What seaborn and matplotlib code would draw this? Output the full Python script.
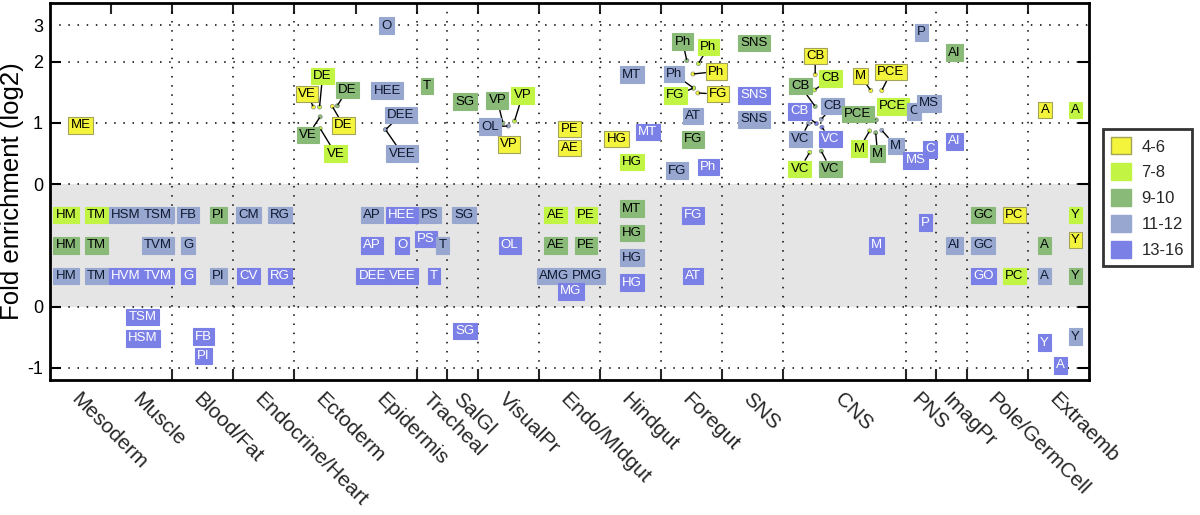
import numpy as np
import pandas as pd
import seaborn as sns
import matplotlib.pyplot as plt
from matplotlib.patches import Patch

# categories along x and their boundaries (in category-width units)
categories = ['Mesoderm', 'Muscle', 'Blood/Fat', 'Endocrine/Heart', 'Ectoderm', 'Epidermis',
              'Tracheal', 'SalGl', 'VisualPr', 'Endo/MIdgut', 'Hindgut', 'Foregut', 'SNS',
              'CNS', 'PNS', 'ImagPr', 'Pole/GermCell', 'Extraemb']
bounds = [0, 1, 2, 3, 4, 5, 6, 6.5, 7, 8, 9, 10, 11, 12, 14, 14.5, 15, 16, 17]

classes = ['4-6', '7-8', '9-10', '11-12', '13-16']
face = {'4-6': '#f4f43c', '7-8': '#c2f444', '9-10': '#89ba78', '11-12': '#97a7cf', '13-16': '#7b80e6'}
edge = {'4-6': '#a3a35a', '7-8': '#c2f444', '9-10': '#89ba78', '11-12': '#97a7cf', '13-16': '#7b80e6'}
txtc = {'4-6': 'black', '7-8': 'black', '9-10': 'black', '11-12': '#101830', '13-16': 'white'}

# ---- enriched terms (log2 fold > 0) ----
up_labels = ['ME', 'VE', 'DE', 'DE', 'DE', 'VE', 'VE', 'O', 'HEE', 'DEE', 'VEE', 'T', 'SG',
             'VP', 'VP', 'OL', 'VP', 'PE', 'AE', 'MT', 'HG', 'MT', 'HG',
             'Ph', 'Ph', 'Ph', 'Ph', 'FG', 'FG', 'AT', 'FG', 'FG', 'Ph', 'SNS', 'SNS', 'SNS',
             'CB', 'CB', 'CB', 'CB', 'CB', 'VC', 'VC', 'VC', 'VC',
             'M', 'PCE', 'PCE', 'PCE', 'M', 'M', 'M', 'P', 'C', 'MS', 'MS', 'C', 'AI', 'AI', 'A', 'A']
up_class = ['4-6', '4-6', '7-8', '9-10', '4-6', '9-10', '7-8', '11-12', '11-12', '11-12', '11-12', '9-10', '9-10',
            '9-10', '7-8', '11-12', '4-6', '4-6', '4-6', '11-12', '4-6', '13-16', '7-8',
            '9-10', '7-8', '11-12', '4-6', '7-8', '4-6', '11-12', '9-10', '11-12', '13-16', '9-10', '13-16', '11-12',
            '4-6', '7-8', '9-10', '13-16', '11-12', '11-12', '13-16', '7-8', '9-10',
            '4-6', '4-6', '9-10', '7-8', '7-8', '9-10', '11-12', '11-12', '11-12', '11-12', '13-16', '13-16',
            '9-10', '13-16', '4-6', '7-8']
up_val = [0.96, 1.26, 1.26, 1.28, 1.27, 1.10, 0.91, 2.59, 1.53, 0.89, 0.89, 1.60, 1.35,
          1.00, 1.03, 0.95, 0.65, 0.90, 0.59, 1.79, 0.74, 0.85, 0.36,
          2.02, 1.97, 1.57, 1.80, 1.57, 1.49, 1.11, 0.73, 0.22, 0.28, 2.31, 1.45, 1.06,
          1.79, 1.54, 1.27, 0.99, 1.06, 0.99, 0.93, 0.52, 0.54,
          1.53, 1.53, 1.05, 1.27, 0.87, 0.84, 0.88, 2.48, 1.19, 1.32, 0.39, 0.57, 2.15, 0.70, 1.21, 1.21]

# layout: x of each point, and where a crowded label was moved to (nan = on the point)
nan = np.nan
up_x = [0.50, 4.31, 4.41, 4.70, 4.62, 4.42, 4.42, 5.51, 5.52, 5.49, 5.49, 6.17, 6.79,
        7.41, 7.60, 7.50, 7.51, 8.50, 8.50, 9.52, 9.27, 9.78, 9.52,
        10.42, 10.61, 10.53, 10.52, 10.53, 10.60, 10.52, 10.52, 10.26, 10.77, 11.52, 11.52, 11.52,
        12.52, 12.51, 12.52, 12.54, 12.62, 12.41, 12.63, 12.43, 12.62,
        13.43, 13.61, 13.52, 13.79, 13.41, 13.51, 13.61, 14.26, 14.14, 14.38, 14.16, 14.40, 14.80, 14.80, 16.28, 16.78]
lab_x = [nan, 4.21, 4.46, 4.86, 4.80, 4.22, 4.67, nan, nan, 5.74, 5.76, nan, nan,
         7.32, 7.73, 7.20, nan, nan, nan, nan, nan, nan, nan,
         10.35, 10.77, 10.21, 10.90, 10.23, 10.93, nan, nan, nan, nan, nan, nan, nan,
         12.52, 12.77, 12.28, 12.27, 12.81, 12.28, 12.77, 12.27, 12.77,
         13.26, 13.76, 13.22, nan, 13.24, 13.54, 13.84, nan, nan, nan, nan, nan, nan, nan, nan, nan]
lab_val = [nan, 1.47, 1.77, 1.54, 0.96, 0.80, 0.50, nan, nan, 1.13, 0.50, nan, nan,
           1.37, 1.45, 0.94, nan, nan, nan, nan, nan, nan, nan,
           2.33, 2.24, 1.80, 1.84, 1.45, 1.47, nan, nan, nan, nan, nan, nan, nan,
           2.09, 1.73, 1.60, 1.19, 1.28, 0.74, 0.74, 0.25, 0.25,
           1.77, 1.83, 1.15, nan, 0.58, 0.50, 0.62, nan, nan, nan, nan, nan, nan, nan, nan, nan]

# ---- terms in the grey band (no significant change) ----
band_labels = ['HM', 'TM', 'HM', 'TM', 'HM', 'TM', 'HSM', 'TSM', 'TVM', 'HVM', 'TVM',
               'FB', 'PI', 'G', 'G', 'PI', 'CM', 'RG', 'CV', 'RG',
               'AP', 'HEE', 'AP', 'O', 'DEE', 'VEE', 'PS', 'PS', 'T', 'T', 'SG', 'OL',
               'AE', 'PE', 'AE', 'PE', 'AMG', 'PMG', 'MG', 'MT', 'HG', 'HG', 'HG', 'FG', 'AT',
               'M', 'P', 'AI', 'GC', 'PC', 'GC', 'GO', 'PC', 'Y', 'A', 'Y', 'A', 'Y']
band_class = ['7-8', '7-8', '9-10', '9-10', '11-12', '11-12', '11-12', '11-12', '11-12', '13-16', '13-16',
              '11-12', '9-10', '11-12', '13-16', '11-12', '11-12', '11-12', '13-16', '13-16',
              '11-12', '13-16', '13-16', '13-16', '13-16', '13-16', '11-12', '13-16', '11-12', '13-16', '11-12', '13-16',
              '7-8', '7-8', '9-10', '9-10', '11-12', '11-12', '13-16', '9-10', '9-10', '11-12', '13-16', '13-16', '13-16',
              '13-16', '13-16', '11-12', '9-10', '4-6', '11-12', '13-16', '7-8', '7-8', '9-10', '4-6', '11-12', '9-10']
band_x = [0.26, 0.76, 0.26, 0.76, 0.26, 0.76, 1.24, 1.77, 1.77, 1.24, 1.77,
          2.26, 2.76, 2.26, 2.26, 2.76, 3.25, 3.76, 3.25, 3.76,
          5.27, 5.76, 5.27, 5.76, 5.27, 5.76, 6.22, 6.15, 6.42, 6.28, 6.77, 7.52,
          8.27, 8.77, 8.27, 8.77, 8.25, 8.79, 8.52, 9.52, 9.52, 9.52, 9.52, 10.52, 10.52,
          13.52, 14.32, 14.80, 15.27, 15.78, 15.27, 15.27, 15.78, 16.78, 16.27, 16.78, 16.27, 16.78]
band_y = [1.5, 1.5, 1.0, 1.0, 0.5, 0.5, 1.5, 1.5, 1.0, 0.5, 0.5,
          1.5, 1.5, 1.0, 0.5, 0.5, 1.5, 1.5, 0.5, 0.5,
          1.5, 1.5, 1.0, 1.0, 0.5, 0.5, 1.5, 1.10, 1.0, 0.5, 1.5, 1.0,
          1.5, 1.5, 1.0, 1.0, 0.5, 0.5, 0.25, 1.60, 1.20, 0.80, 0.39, 1.49, 0.5,
          1.0, 1.37, 1.0, 1.5, 1.5, 1.0, 0.5, 0.5, 1.5, 1.0, 1.09, 0.5, 0.5]

# ---- depleted terms (log2 fold < 0) ----
dn_labels = ['TSM', 'HSM', 'FB', 'PI', 'SG', 'Y', 'Y', 'A']
dn_class = ['13-16', '13-16', '13-16', '13-16', '13-16', '13-16', '11-12', '13-16']
dn_val = [-0.17, -0.52, -0.49, -0.81, -0.40, -0.59, -0.49, -0.96]
dn_x = [1.51, 1.52, 2.51, 2.51, 6.79, 16.27, 16.78, 16.53]

BAND_TOP = 2.0  # plot position of log2 = 0 for the enriched part

sns.set_theme(style='white')
plt.rcParams['font.family'] = ['Liberation Sans', 'DejaVu Sans']

fig = plt.figure(figsize=(12, 5.15), dpi=100)
ax = fig.add_axes([50 / 1200, 1 - 380 / 515, 1039 / 1200, 377 / 515])

ax.axhspan(0, BAND_TOP, color='#e5e5e5', zorder=0.2, lw=0)

up = pd.DataFrame({'label': up_labels, 'cls': up_class, 'x': up_x, 'val': up_val,
                   'lx': lab_x, 'lv': lab_val})
up['y'] = up['val'] + BAND_TOP
moved = up[up['lx'].notna()]
sns.scatterplot(data=moved, x='x', y='y', hue='cls', palette=face, s=9, linewidth=0.4,
                edgecolor='#777777', legend=False, ax=ax, zorder=2)


def box(cls):
    return dict(boxstyle='square,pad=0.17', fc=face[cls], ec=edge[cls], lw=0.8)


fs = 9.5
for _, r in up.iterrows():
    if np.isnan(r['lx']):
        ax.text(r['x'], r['y'], r['label'], ha='center', va='center', fontsize=fs,
                color=txtc[r['cls']], bbox=box(r['cls']), zorder=3)
    else:
        ax.annotate(r['label'], xy=(r['x'], r['y']), xytext=(r['lx'], r['lv'] + BAND_TOP),
                    ha='center', va='center', fontsize=fs, color=txtc[r['cls']],
                    bbox=box(r['cls']), zorder=3,
                    arrowprops=dict(arrowstyle='-', color='black', lw=1.0, shrinkA=0, shrinkB=1))

for lab, c, x, y in zip(band_labels, band_class, band_x, band_y):
    ax.text(x, y, lab, ha='center', va='center', fontsize=fs, color=txtc[c], bbox=box(c), zorder=3)

for lab, c, x, v in zip(dn_labels, dn_class, dn_x, dn_val):
    ax.text(x, v, lab, ha='center', va='center', fontsize=fs, color=txtc[c], bbox=box(c), zorder=3)

ax.set_xlim(0, 17)
ax.set_ylim(-1.2, 4.96)

# y axis: two separate zero lines around the grey band
ax.set_yticks([-1, 0, 2, 3, 4, 4.6], ['-1', '0', '0', '1', '2', '3'])
ax.tick_params(axis='y', which='major', direction='in', length=8, width=1.5, left=True, right=True,
               labelsize=13, pad=5, colors='black')
tk = ax.yaxis.get_major_ticks()[-1]
tk.tick1line.set_visible(False)
tk.tick2line.set_visible(False)
tk.gridline.set_visible(False)

centers = [(bounds[i] + bounds[i + 1]) / 2 for i in range(len(categories))]
grid_x = [2, 3, 4, 6, 6.5, 7, 8, 9, 10, 11, 12, 14, 14.5, 15, 16]
top_ticks = [1, 2, 3, 4, 5, 6, 7, 8, 9, 10, 11, 12, 14, 15, 16]
ax.set_xticks(centers)
ax.set_xticklabels(categories, rotation=-45, ha='left', va='top', rotation_mode='anchor', fontsize=15)
ax.set_xticks(grid_x, minor=True)
ax.tick_params(axis='x', which='major', length=0, pad=7)
ax.tick_params(axis='x', which='minor', direction='in', length=8, width=1.5, bottom=True)
ax.set_xlabel('')

sec = ax.secondary_xaxis('top')
sec.set_xticks(top_ticks)
sec.tick_params(direction='in', length=8, width=1.5, labeltop=False)
sec.spines['top'].set_visible(False)

ax.set_axisbelow(True)
ax.grid(axis='y', which='major', color='black', linestyle=(0, (1, 5)), lw=1.1)
ax.grid(axis='x', which='minor', color='black', linestyle=(0, (1, 5)), lw=1.1)
ax.grid(axis='x', which='major', visible=False)

for s in ax.spines.values():
    s.set_color('black')
    s.set_linewidth(2)

ax.set_ylabel('Fold enrichment (log2)', fontsize=18.5, color='black')
ax.yaxis.set_label_coords(-0.025, 0.5)

handles = [Patch(facecolor=face[c], edgecolor=edge[c] if c == '4-6' else face[c], label=c) for c in classes]
leg = ax.legend(handles=handles, loc='upper left', bbox_to_anchor=(1103 / 1200, 1 - 129 / 515),
                bbox_transform=fig.transFigure, fontsize=12, frameon=True, fancybox=False,
                borderaxespad=0, handlelength=1.2, handleheight=1.2, labelspacing=0.52,
                handletextpad=0.6, borderpad=0.5)
leg.get_frame().set_edgecolor('black')
leg.get_frame().set_linewidth(2)

fig.savefig('out.png', dpi=100)
